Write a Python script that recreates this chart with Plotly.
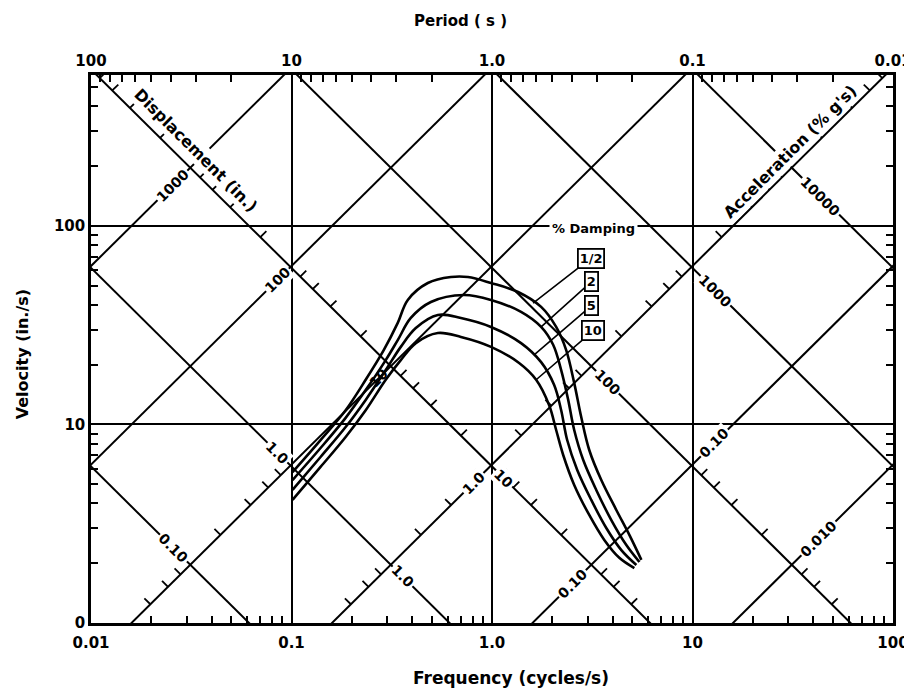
import math
import plotly.graph_objects as go

# ---------------- data ----------------
freq_tickvals = [0.01, 0.1, 1.0, 10, 100]
freq_ticktext = ["0.01", "0.1", "1.0", "10", "100"]
period_ticktext = ["100", "10", "1.0", "0.1", "0.01"]
vel_tickvals = [1, 10, 100]
vel_ticktext = ["0", "10", "100"]
vel_top = 576.0

displacement_lines = [0.01, 0.1, 1.0, 10, 100, 1000]     # in.
acceleration_lines = [0.1, 1.0, 10, 100, 1000, 10000]    # % g

damping_names = ["1/2", "2", "5", "10"]

freq_d05 = [0.1012, 0.1396, 0.1862, 0.2344, 0.2884, 0.3388, 0.3802, 0.4786, 0.6237, 0.7586, 0.9886,
            1.349, 1.758, 2.089, 2.344, 2.570, 2.786, 3.055, 3.508, 4.169, 4.842, 5.559]
vel_d05 = [5.76, 8.35, 11.8, 16.8, 23.7, 32.5, 42.4, 51.6, 55.3, 55.3, 51.6,
           46.5, 39.1, 31.0, 23.7, 16.2, 10.9, 7.44, 5.25, 3.71, 2.78, 2.08]

freq_d2 = [0.1012, 0.1396, 0.1862, 0.2344, 0.2951, 0.3388, 0.3936, 0.4955, 0.7244, 0.9886, 1.396,
           1.758, 2.018, 2.213, 2.399, 2.570, 2.851, 3.311, 3.936, 4.677, 5.433]
vel_d2 = [5.25, 7.61, 10.8, 14.9, 21.1, 26.6, 34.4, 41.4, 44.9, 42.4, 36.9,
          31.0, 25.2, 18.8, 13.3, 9.38, 6.62, 4.68, 3.30, 2.47, 2.03]

freq_d5 = [0.1012, 0.1396, 0.1862, 0.2344, 0.2951, 0.3508, 0.4169, 0.5370, 0.6998, 0.9886, 1.396,
           1.758, 2.042, 2.213, 2.371, 2.661, 3.126, 3.715, 4.416, 5.248]
vel_d5 = [4.68, 6.86, 9.71, 13.3, 18.8, 24.6, 30.6, 35.6, 34.4, 31.0, 25.7,
          20.6, 15.8, 11.8, 8.35, 5.90, 4.17, 3.01, 2.33, 1.96]

freq_d10 = [0.1012, 0.1396, 0.1862, 0.2344, 0.2951, 0.3508, 0.4169, 0.5370, 0.6998, 0.9886, 1.365,
            1.660, 1.928, 2.089, 2.265, 2.570, 3.055, 3.631, 4.315, 5.129]
vel_d10 = [4.17, 6.11, 8.65, 11.8, 16.8, 21.1, 25.7, 28.9, 27.6, 24.6, 20.4,
           16.8, 12.5, 9.38, 7.02, 4.96, 3.50, 2.62, 2.13, 1.89]

# leader targets on each curve (frequency where the leader meets the curve)
leader_freq = [1.603, 1.758, 1.622, 1.660]
leader_vel = [40.9, 31.0, 22.4, 16.8]

# labels of the diagonal scales
disp_label_text = ["1000", "100", "10", "1.0", "0.10", "0.10", "0.010"]
disp_label_value = [1000, 100, 10, 1.0, 0.1, 0.1, 0.01]
disp_label_freq = [0.0254, 0.0851, 0.272, 0.81, 2.51, 12.8, 42.3]
acc_label_text = ["0.10", "1.0", "1.0", "10", "100", "1000", "10000"]
acc_label_value = [0.1, 1.0, 1.0, 10, 100, 1000, 10000]
acc_label_freq = [0.0257, 0.0851, 0.358, 1.15, 3.76, 13.0, 43.7]

# ---------------- helpers ----------------
G_IN = 386.1
KA = G_IN / 100.0 / (2 * math.pi)   # V = KA * A / f  (A in % g)
TWO_PI = 2 * math.pi


def v_disp(f, d):
    return TWO_PI * f * d


def v_acc(f, a):
    return KA * a / f


def crossing(d, a):
    f = math.sqrt(KA * a / (TWO_PI * d))
    return f, v_disp(f, d)


FONT = "DejaVu Sans"
fig = go.Figure()

# diagonal lines
dx, dy = [], []
for d in displacement_lines:
    for f in (1e-3, 1e3):
        dx.append(f)
        dy.append(v_disp(f, d))
    dx.append(None)
    dy.append(None)
for a in acceleration_lines:
    for f in (1e-3, 1e3):
        dx.append(f)
        dy.append(v_acc(f, a))
    dx.append(None)
    dy.append(None)
fig.add_trace(go.Scatter(x=dx, y=dy, mode="lines", line=dict(color="black", width=2),
                         hoverinfo="skip", showlegend=False))

# ticks on the diagonal scales
DL = 0.03
tx, ty = [], []


def disp_ticks(a, dvals):
    for d in dvals:
        f, v = crossing(d, a)
        tx.extend([f, f * 10 ** DL, None])
        ty.extend([v, v * 10 ** DL, None])


def acc_ticks(d, avals):
    for a in avals:
        f, v = crossing(d, a)
        tx.extend([f, f / 10 ** DL, None])
        ty.extend([v, v * 10 ** DL, None])


sub = (2, 4, 6, 8)
disp_ticks(10, [k * 10 ** n for n in range(-2, 4) for k in sub])
acc_ticks(1.0, [k * 10 ** n for n in range(-1, 5) for k in sub])
acc_ticks(10, [k * 10 ** n for n in (-2, -1) for k in sub])
disp_ticks(100, [k * 10 ** n for n in (-3, -2) for k in sub])
fig.add_trace(go.Scatter(x=tx, y=ty, mode="lines", line=dict(color="black", width=1.8),
                         hoverinfo="skip", showlegend=False))

# response spectra
for fr, vv in ((freq_d05, vel_d05), (freq_d2, vel_d2), (freq_d5, vel_d5), (freq_d10, vel_d10)):
    fig.add_trace(go.Scatter(x=fr, y=vv, mode="lines", line=dict(color="black", width=2.6, shape="spline"),
                             hoverinfo="skip", showlegend=False))

# helper traces for secondary axes
fig.add_trace(go.Scatter(x=[0.01, 100], y=[1, 1], xaxis="x2", mode="markers",
                         marker=dict(opacity=0), hoverinfo="skip", showlegend=False))
fig.add_trace(go.Scatter(x=[0.01, 100], y=[1, 1], yaxis="y2", mode="markers",
                         marker=dict(opacity=0), hoverinfo="skip", showlegend=False))

freq_minor = [k * 10 ** n for n in range(-2, 2) for k in range(2, 10)]
period_minor = [1.0 / (k * 10 ** n) for n in range(-2, 2) for k in range(2, 10)]
vel_minor = [k * 10 ** n for n in range(0, 3) for k in range(2, 10) if k * 10 ** n < vel_top]

xr = [-2, 2]
yr = [0, math.log10(vel_top)]
tickfont = dict(family=FONT, size=15, color="black", weight="bold")
minor_common = dict(ticks="inside", ticklen=7, tickwidth=1.6, tickcolor="black", showgrid=False)

# the page body adds an 8 px margin, so the figure is sized to fit inside the window
fig.update_layout(
    width=904, height=688,
    margin=dict(l=83, r=19, t=67, b=73, pad=0),
    paper_bgcolor="white", plot_bgcolor="white",
    showlegend=False,
    xaxis=dict(type="log", range=xr, tickvals=freq_tickvals, ticktext=freq_ticktext, automargin=False,
               showgrid=True, gridcolor="black", gridwidth=2, ticks="", zeroline=False,
               showline=True, linecolor="black", linewidth=2.5, tickfont=tickfont,
               ticklabelstandoff=4,
               minor=dict(tickvals=freq_minor, **minor_common)),
    xaxis2=dict(type="log", range=xr, overlaying="x", side="top", anchor="y", automargin=False,
                tickvals=freq_tickvals, ticktext=period_ticktext, showgrid=False, ticks="",
                showline=True, linecolor="black", linewidth=2.5, tickfont=tickfont,
                minor=dict(tickvals=period_minor, **minor_common)),
    yaxis=dict(type="log", range=yr, tickvals=vel_tickvals, ticktext=vel_ticktext, automargin=False,
               showgrid=True, gridcolor="black", gridwidth=2, ticks="", zeroline=False,
               showline=True, linecolor="black", linewidth=2.5, tickfont=tickfont,
               minor=dict(tickvals=vel_minor, **minor_common)),
    yaxis2=dict(type="log", range=yr, overlaying="y", side="right", anchor="x", automargin=False,
                tickvals=vel_tickvals, showticklabels=False, showgrid=False, ticks="",
                showline=True, linecolor="black", linewidth=2.5,
                minor=dict(tickvals=vel_minor, **minor_common)),
)

labfont = dict(family=FONT, size=14, color="black", weight="bold")


def line_label(text, f, v, angle, bg=True):
    fig.add_annotation(x=math.log10(f), y=math.log10(v), xref="x", yref="y", text=text,
                       textangle=angle, showarrow=False, font=labfont, xanchor="center", yanchor="middle",
                       bgcolor="white" if bg else "rgba(0,0,0,0)", borderpad=1)


for t, d, f in zip(disp_label_text, disp_label_value, disp_label_freq):
    line_label(t, f, v_disp(f, d), -45, bg=(t != "10"))
for t, a, f in zip(acc_label_text, acc_label_value, acc_label_freq):
    line_label(t, f, v_acc(f, a), 45)


def paper_text(text, x, y, size, angle=0, bg=None, pad=1):
    fig.add_annotation(x=x, y=y, xref="paper", yref="paper", text=text, textangle=angle,
                       showarrow=False, font=dict(family=FONT, size=size, color="black", weight="bold"),
                       xanchor="center", yanchor="middle",
                       bgcolor=bg if bg else "rgba(0,0,0,0)", borderpad=pad)


# scale titles
paper_text("Displacement (in.)", 0.131, 0.863, 16, angle=45, bg="white")
paper_text("Acceleration (% g's)", 0.872, 0.860, 16, angle=-45, bg="white")
# axis titles
paper_text("Period ( s )", 0.461, 1.099, 15)
paper_text("Frequency (cycles/s)", 0.524, -0.100, 17)
paper_text("Velocity (in./s)", -0.085, 0.490, 16, angle=-90)
# damping legend
paper_text("% Damping", 0.626, 0.719, 13, bg="white", pad=2)

box_offsets = [(58, -45), (50, -45), (57, -49), (57, -49)]
for name, f, v, (ax, ay) in zip(damping_names, leader_freq, leader_vel, box_offsets):
    fig.add_annotation(x=math.log10(f), y=math.log10(v), xref="x", yref="y", text=name,
                       showarrow=True, arrowhead=0, arrowwidth=1.6, arrowcolor="black",
                       ax=ax, ay=ay, font=dict(family=FONT, size=13, color="black", weight="bold"),
                       bordercolor="black", borderwidth=1.8, borderpad=1, bgcolor="white")

fig.write_html("out.html")
